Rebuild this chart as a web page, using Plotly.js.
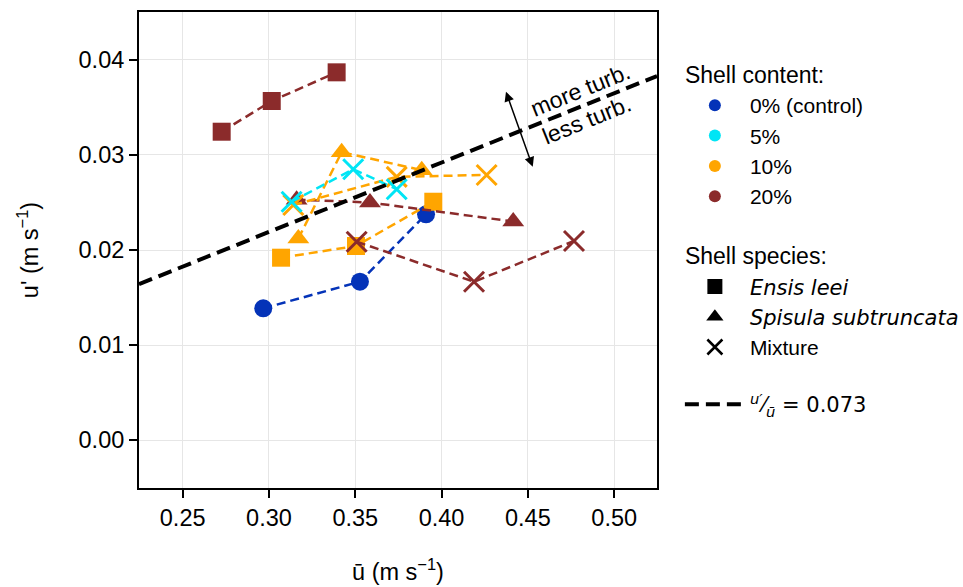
<!DOCTYPE html>
<html>
<head>
<meta charset="utf-8">
<script src="https://cdn.plot.ly/plotly-3.0.1.min.js"></script>
<style>html,body{margin:0;padding:0;background:#fff;}#plot{width:963px;height:587px;}</style>
</head>
<body>
<div id="plot"></div>
<script>
// ---- data ----
const blueX = [0.2967, 0.3527, 0.3910];
const blueY = [0.01386, 0.01666, 0.02376];

const cyanMixX = [0.3131, 0.3488, 0.3740];
const cyanMixY = [0.02508, 0.0285, 0.0264];

const orangeEnsisX = [0.3070, 0.3504, 0.3952];
const orangeEnsisY = [0.01919, 0.02042, 0.02508];
const orangeSpisX = [0.3170, 0.3421, 0.3885];
const orangeSpisY = [0.0212, 0.0303, 0.0284];
const orangeMixX = [0.3141, 0.3740, 0.4261];
const orangeMixY = [0.02474, 0.0277, 0.0279];

const brownEnsisX = [0.2726, 0.3016, 0.3392];
const brownEnsisY = [0.03245, 0.03568, 0.0387];
const brownSpisX = [0.3160, 0.3585, 0.4415];
const brownSpisY = [0.0253, 0.0250, 0.0230];
const brownMixX = [0.3508, 0.4188, 0.4767];
const brownMixY = [0.02087, 0.01666, 0.02095];

const ratio = 0.073;
const xRange = [0.2247, 0.5248];
const yRange = [-0.00505, 0.04505];
const xTicks = [0.25, 0.30, 0.35, 0.40, 0.45, 0.50];
const yTicks = [0.00, 0.01, 0.02, 0.03, 0.04];

const contentLabels = ['0% (control)', '5%', '10%', '20%'];
const speciesLabels = ['<i>Ensis leei</i>', '<i>Spisula subtruncata</i>', 'Mixture'];

// ---- styles ----
const C = {blue: '#0433b8', cyan: '#00e5f5', orange: '#ffa500', brown: '#8b2b2b'};
const contentColors = [C.blue, C.cyan, C.orange, C.brown];
const SYM = {ensis: 'square', spis: 'triangle-up', mix: 'x-thin-open', ctrl: 'circle'};
const SIZE = {square: 18, 'triangle-up': 19, 'x-thin-open': 20, circle: 18};

function series(x, y, color, symbol) {
  return {
    x: x, y: y, type: 'scatter', mode: 'lines+markers', showlegend: false,
    line: {color: color, width: 2.5, dash: '9px,5px'},
    marker: {color: color, symbol: symbol, size: SIZE[symbol],
             line: {color: color, width: symbol === 'x-thin-open' ? 3 : 0}},
    hoverinfo: 'x+y'
  };
}

const traces = [
  series(blueX, blueY, C.blue, SYM.ctrl),
  series(brownEnsisX, brownEnsisY, C.brown, SYM.ensis),
  series(orangeEnsisX, orangeEnsisY, C.orange, SYM.ensis),
  series(brownSpisX, brownSpisY, C.brown, SYM.spis),
  series(orangeSpisX, orangeSpisY, C.orange, SYM.spis),
  series(brownMixX, brownMixY, C.brown, SYM.mix),
  series(orangeMixX, orangeMixY, C.orange, SYM.mix),
  series(cyanMixX, cyanMixY, C.cyan, SYM.mix)
];

// reference line u'/ū = ratio
traces.push({
  x: xRange, y: xRange.map(v => v * ratio), type: 'scatter', mode: 'lines',
  line: {color: '#000', width: 4, dash: '14px,7px'},
  name: '<span style="font-family:DejaVu Sans"><sup><i>u′</i></sup>⁄<sub><i>ū</i></sub> = 0.073</span>',
  legendgroup: 'c', legendrank: 30, showlegend: true, hoverinfo: 'skip'
});

// legend entries
contentLabels.forEach((lab, i) => {
  traces.push({
    x: [null], y: [null], type: 'scatter', mode: 'markers', name: lab,
    marker: {color: contentColors[i], symbol: 'circle', size: 12},
    legendgroup: 'a', legendrank: i + 1,
    legendgrouptitle: {text: 'Shell content:', font: {size: 23}}
  });
});
const spSyms = [SYM.ensis, SYM.spis, SYM.mix];
speciesLabels.forEach((lab, i) => {
  traces.push({
    x: [null], y: [null], type: 'scatter', mode: 'markers',
    name: i < 2 ? '<span style="font-family:DejaVu Sans">' + lab + '</span>' : lab,
    marker: {color: '#000', symbol: spSyms[i], size: 15, line: {color: '#000', width: i === 2 ? 2.5 : 0}},
    legendgroup: 'b', legendrank: 10 + i,
    legendgrouptitle: {text: 'Shell species:', font: {size: 23}}
  });
});

const FONT = 'Liberation Sans, Arial, sans-serif';
const layout = {
  width: 963, height: 587,
  margin: {l: 139, r: 306, t: 12, b: 99},
  paper_bgcolor: '#fff', plot_bgcolor: '#fff',
  font: {family: FONT, size: 21, color: '#000'},
  xaxis: {
    range: xRange, tickvals: xTicks, ticktext: xTicks.map(v => v.toFixed(2)),
    showgrid: true, gridcolor: '#e6e6e6', gridwidth: 1, zeroline: false,
    showline: true, mirror: true, linecolor: '#000', linewidth: 2,
    ticks: 'outside', ticklen: 8, tickwidth: 2, tickcolor: '#000',
    tickfont: {size: 23.5},
    title: {text: 'ū (m s<sup>−1</sup>)', font: {size: 23.5}, standoff: 33}
  },
  yaxis: {
    range: yRange, tickvals: yTicks, ticktext: yTicks.map(v => v.toFixed(2)),
    showgrid: true, gridcolor: '#e6e6e6', gridwidth: 1, zeroline: false,
    showline: true, mirror: true, linecolor: '#000', linewidth: 2,
    ticks: 'outside', ticklen: 8, tickwidth: 2, tickcolor: '#000',
    tickfont: {size: 23.5},
    title: {text: "u' (m s<sup>−1</sup>)", font: {size: 23.5}, standoff: 33}
  },
  legend: {
    xref: 'container', yref: 'container',
    x: 0.706, y: 0.911, xanchor: 'left', yanchor: 'top',
    maxheight: 500,
    bgcolor: 'rgba(0,0,0,0)', borderwidth: 0,
    font: {size: 21}, itemwidth: 60, tracegroupgap: 27,
    traceorder: 'grouped'
  },
  annotations: [
    {x: 0.4373, y: 0.03666, ax: 0.4531, ay: 0.0286, axref: 'x', ayref: 'y', xref: 'x', yref: 'y',
     text: '', showarrow: true, arrowside: 'end+start', arrowhead: 2, arrowsize: 1.3, arrowwidth: 1.5,
     arrowcolor: '#000', standoff: 0, startstandoff: 0},
    {x: 0.4802, y: 0.03684, text: 'more turb.', showarrow: false, textangle: -22,
     font: {size: 23}, xref: 'x', yref: 'y'},
    {x: 0.4840, y: 0.03368, text: 'less turb.', showarrow: false, textangle: -22,
     font: {size: 23}, xref: 'x', yref: 'y'}
  ]
};

Plotly.newPlot('plot', traces, layout, {displayModeBar: false, staticPlot: true});
</script>
</body>
</html>
